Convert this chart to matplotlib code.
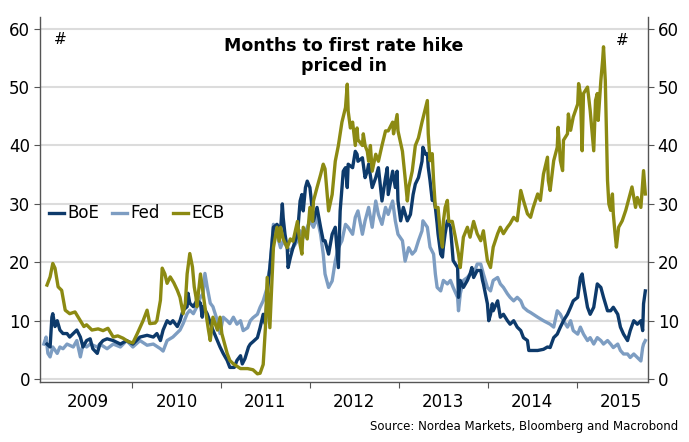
import numpy as np
import matplotlib.pyplot as plt

# months to first hike (time in decimal years)
ecb_t = [2009.045, 2009.08, 2009.11, 2009.135, 2009.17, 2009.21, 2009.25, 2009.30, 2009.36, 2009.42,
         2009.46, 2009.49, 2009.55, 2009.62, 2009.675, 2009.73, 2009.79, 2009.84, 2009.90, 2009.96,
         2010.01, 2010.06, 2010.125, 2010.17, 2010.20, 2010.26, 2010.28, 2010.32, 2010.34, 2010.37,
         2010.395, 2010.43, 2010.47, 2010.51, 2010.54, 2010.575, 2010.60, 2010.62, 2010.65, 2010.68,
         2010.70, 2010.72, 2010.73, 2010.77, 2010.79, 2010.82, 2010.86, 2010.88, 2010.91, 2010.96,
         2010.99, 2011.01, 2011.07, 2011.10, 2011.14, 2011.22, 2011.30, 2011.36, 2011.41, 2011.44,
         2011.475, 2011.50, 2011.52, 2011.55, 2011.58, 2011.59, 2011.63, 2011.655, 2011.67, 2011.70,
         2011.745, 2011.78, 2011.81, 2011.86, 2011.89, 2011.91, 2011.925, 2011.97, 2012.00, 2012.03,
         2012.04, 2012.08, 2012.12, 2012.15, 2012.17, 2012.21, 2012.25, 2012.285, 2012.32, 2012.36,
         2012.40, 2012.42, 2012.43, 2012.455, 2012.48, 2012.51, 2012.53, 2012.54, 2012.59, 2012.60,
         2012.62, 2012.645, 2012.66, 2012.68, 2012.70, 2012.74, 2012.77, 2012.81, 2012.85, 2012.88,
         2012.93, 2012.94, 2012.98, 2012.99, 2013.04, 2013.07, 2013.095, 2013.11, 2013.15, 2013.185,
         2013.22, 2013.26, 2013.30, 2013.32, 2013.33, 2013.35, 2013.375, 2013.39, 2013.41, 2013.44,
         2013.47, 2013.49, 2013.50, 2013.52, 2013.545, 2013.56, 2013.60, 2013.635, 2013.67, 2013.69,
         2013.725, 2013.77, 2013.80, 2013.84, 2013.88, 2013.92, 2013.95, 2013.995, 2014.03, 2014.06,
         2014.11, 2014.14, 2014.175, 2014.22, 2014.25, 2014.29, 2014.33, 2014.37, 2014.40, 2014.445,
         2014.48, 2014.51, 2014.56, 2014.59, 2014.625, 2014.67, 2014.68, 2014.70, 2014.74, 2014.78,
         2014.79, 2014.815, 2014.84, 2014.85, 2014.895, 2014.905, 2014.93, 2014.96, 2015.01, 2015.02,
         2015.04, 2015.06, 2015.075, 2015.12, 2015.15, 2015.19, 2015.21, 2015.23, 2015.24, 2015.27,
         2015.29, 2015.30, 2015.32, 2015.33, 2015.345, 2015.36, 2015.38, 2015.40, 2015.41, 2015.43,
         2015.445, 2015.47, 2015.51, 2015.55, 2015.58, 2015.62, 2015.66, 2015.68, 2015.72, 2015.75,
         2015.77]
ecb_v = [16.1, 17.5, 19.8, 19.0, 15.8, 15.2, 11.8, 11.2, 11.5, 10.0,
         9.0, 9.3, 8.4, 8.6, 8.3, 8.7, 7.2, 7.4, 7.0, 6.4,
         6.2, 7.8, 10.0, 11.8, 9.5, 9.6, 10.0, 13.5, 19.0, 18.0,
         16.4, 17.5, 16.5, 15.2, 14.0, 11.2, 13.0, 18.0, 21.5, 19.2,
         15.8, 14.0, 12.4, 18.0, 15.8, 12.4, 8.4, 6.6, 10.6, 8.4,
         10.6, 7.8, 4.4, 3.2, 2.6, 1.8, 1.8, 1.6, 0.9, 1.0,
         2.5, 8.8, 17.4, 8.8, 19.0, 22.5, 26.0, 23.6, 26.0, 24.0,
         22.5, 24.0, 23.6, 27.0, 23.0, 21.4, 26.0, 24.0, 29.4, 27.0,
         30.5, 32.8, 35.0, 36.8, 36.0, 28.8, 31.6, 37.3, 40.0, 44.0,
         46.5, 50.5, 45.9, 43.0, 44.0, 40.0, 43.0, 41.0, 40.0, 42.0,
         40.0, 39.0, 37.3, 40.0, 35.6, 38.5, 37.3, 40.0, 42.5, 42.5,
         44.0, 42.0, 45.3, 42.5, 39.0, 34.5, 30.5, 32.8, 35.6, 40.0,
         41.3, 44.0, 46.5, 47.7, 42.0, 37.4, 38.6, 34.0, 29.4, 29.4,
         24.3, 22.6, 27.0, 29.4, 30.6, 27.0, 27.0, 24.3, 21.4, 19.1,
         24.3, 26.0, 24.3, 27.0, 24.9, 23.7, 25.4, 20.3, 19.1, 22.6,
         24.9, 26.0, 24.9, 26.0, 26.6, 27.7, 27.1, 32.3, 30.6, 28.3,
         27.7, 29.4, 31.7, 30.6, 35.1, 38.0, 34.0, 32.3, 37.4, 39.7,
         43.1, 37.4, 35.7, 40.9, 42.0, 45.4, 42.6, 44.9, 47.1, 50.6,
         48.9, 39.1, 48.9, 50.0, 46.0, 39.1, 47.7, 48.9, 44.3, 51.1,
         54.6, 56.9, 51.1, 44.3, 34.0, 30.0, 28.9, 31.7, 28.3, 24.9,
         22.6, 26.0, 27.1, 28.9, 30.6, 32.9, 29.4, 31.1, 29.4, 35.7,
         31.7]

boe_t = [2009.045, 2009.08, 2009.10, 2009.11, 2009.135, 2009.16, 2009.19, 2009.225, 2009.27, 2009.30,
         2009.34, 2009.38, 2009.42, 2009.45, 2009.49, 2009.53, 2009.56, 2009.61, 2009.64, 2009.675,
         2009.72, 2009.79, 2009.87, 2009.94, 2010.01, 2010.09, 2010.17, 2010.24, 2010.28, 2010.32,
         2010.35, 2010.395, 2010.43, 2010.46, 2010.51, 2010.54, 2010.575, 2010.62, 2010.63, 2010.65,
         2010.69, 2010.73, 2010.77, 2010.79, 2010.80, 2010.845, 2010.91, 2010.96, 2010.99, 2011.025,
         2011.07, 2011.10, 2011.15, 2011.18, 2011.22, 2011.24, 2011.27, 2011.31, 2011.33, 2011.36,
         2011.41, 2011.44, 2011.475, 2011.50, 2011.52, 2011.55, 2011.59, 2011.63, 2011.67, 2011.69,
         2011.70, 2011.72, 2011.745, 2011.755, 2011.78, 2011.81, 2011.86, 2011.89, 2011.91, 2011.925,
         2011.95, 2011.97, 2012.00, 2012.04, 2012.08, 2012.12, 2012.15, 2012.17, 2012.21, 2012.25,
         2012.285, 2012.32, 2012.34, 2012.36, 2012.375, 2012.40, 2012.42, 2012.43, 2012.48, 2012.51,
         2012.53, 2012.54, 2012.59, 2012.62, 2012.645, 2012.66, 2012.70, 2012.74, 2012.77, 2012.81,
         2012.85, 2012.87, 2012.88, 2012.93, 2012.96, 2012.98, 2012.99, 2013.02, 2013.05, 2013.095,
         2013.13, 2013.16, 2013.185, 2013.22, 2013.26, 2013.27, 2013.30, 2013.32, 2013.33, 2013.35,
         2013.375, 2013.39, 2013.41, 2013.43, 2013.44, 2013.47, 2013.49, 2013.50, 2013.52, 2013.545,
         2013.58, 2013.61, 2013.66, 2013.67, 2013.69, 2013.725, 2013.77, 2013.80, 2013.82, 2013.84,
         2013.88, 2013.92, 2013.94, 2013.95, 2013.995, 2014.01, 2014.03, 2014.05, 2014.06, 2014.11,
         2014.14, 2014.175, 2014.22, 2014.25, 2014.29, 2014.33, 2014.37, 2014.40, 2014.445, 2014.46,
         2014.50, 2014.56, 2014.625, 2014.67, 2014.70, 2014.74, 2014.78, 2014.815, 2014.85, 2014.895,
         2014.93, 2014.96, 2015.01, 2015.04, 2015.06, 2015.075, 2015.12, 2015.15, 2015.19, 2015.23,
         2015.27, 2015.30, 2015.345, 2015.38, 2015.41, 2015.46, 2015.49, 2015.525, 2015.57, 2015.60,
         2015.64, 2015.68, 2015.72, 2015.74, 2015.75, 2015.77]
boe_v = [6.0, 5.5, 10.6, 11.2, 9.0, 10.0, 8.4, 7.8, 7.8, 7.2,
         7.8, 8.4, 7.2, 5.5, 6.6, 6.9, 5.2, 4.4, 6.0, 6.6,
         6.9, 6.6, 6.0, 6.6, 6.0, 7.2, 7.5, 7.2, 7.8, 6.6,
         8.4, 10.0, 9.5, 10.0, 9.0, 10.0, 11.8, 12.4, 14.7, 13.0,
         12.4, 13.5, 13.0, 10.6, 12.4, 11.2, 8.4, 6.6, 5.5, 4.4,
         3.2, 2.0, 2.0, 3.2, 4.0, 2.6, 3.5, 5.5, 6.0, 6.4,
         7.1, 8.8, 11.1, 9.4, 14.5, 19.1, 26.0, 26.5, 25.4, 30.0,
         27.6, 24.8, 22.5, 19.1, 20.8, 22.5, 24.8, 30.5, 31.6, 28.8,
         32.8, 33.9, 32.8, 27.1, 29.4, 26.0, 23.7, 23.7, 21.4, 24.8,
         26.0, 19.1, 28.8, 32.8, 35.6, 36.2, 32.8, 36.8, 36.2, 39.0,
         38.5, 37.3, 37.9, 34.5, 35.6, 36.8, 32.8, 34.5, 36.2, 30.5,
         34.5, 36.2, 31.6, 35.6, 32.8, 35.6, 30.5, 27.1, 29.4, 27.1,
         28.2, 31.6, 33.4, 34.5, 37.3, 39.7, 38.5, 38.6, 36.3, 34.0,
         30.6, 31.1, 29.4, 26.6, 24.9, 21.4, 20.9, 22.6, 24.9, 27.1,
         26.0, 20.3, 19.1, 14.0, 16.9, 15.7, 16.9, 18.0, 19.1, 17.4,
         18.6, 18.6, 16.9, 16.3, 12.9, 10.0, 11.1, 12.9, 11.7, 13.4,
         10.6, 11.1, 10.0, 9.4, 10.0, 8.9, 8.3, 7.1, 6.6, 4.9,
         4.9, 4.9, 5.1, 5.5, 5.4, 7.1, 7.7, 8.9, 10.0, 11.1,
         12.3, 13.4, 14.0, 17.4, 18.0, 16.3, 12.3, 11.1, 12.3, 16.3,
         15.7, 14.0, 11.7, 11.7, 12.3, 11.1, 8.9, 7.7, 6.6, 8.3,
         10.0, 9.4, 10.0, 8.3, 12.9, 15.1]

fed_t = [2009.01, 2009.035, 2009.055, 2009.08, 2009.11, 2009.16, 2009.19, 2009.225, 2009.27, 2009.34,
         2009.38, 2009.42, 2009.45, 2009.49, 2009.53, 2009.61, 2009.64, 2009.72, 2009.79, 2009.87,
         2009.94, 2010.01, 2010.09, 2010.17, 2010.24, 2010.32, 2010.35, 2010.395, 2010.46, 2010.54,
         2010.575, 2010.62, 2010.65, 2010.69, 2010.73, 2010.77, 2010.80, 2010.82, 2010.845, 2010.88,
         2010.91, 2010.96, 2010.99, 2011.025, 2011.07, 2011.10, 2011.14, 2011.18, 2011.22, 2011.25,
         2011.30, 2011.33, 2011.36, 2011.41, 2011.44, 2011.475, 2011.52, 2011.53, 2011.55, 2011.59,
         2011.63, 2011.67, 2011.70, 2011.745, 2011.78, 2011.81, 2011.86, 2011.89, 2011.925, 2011.97,
         2012.00, 2012.04, 2012.08, 2012.12, 2012.15, 2012.17, 2012.21, 2012.25, 2012.285, 2012.32,
         2012.36, 2012.40, 2012.43, 2012.48, 2012.51, 2012.54, 2012.59, 2012.62, 2012.66, 2012.70,
         2012.74, 2012.77, 2012.81, 2012.85, 2012.88, 2012.93, 2012.96, 2012.99, 2013.04, 2013.07,
         2013.11, 2013.15, 2013.185, 2013.22, 2013.26, 2013.27, 2013.32, 2013.35, 2013.39, 2013.41,
         2013.43, 2013.47, 2013.50, 2013.545, 2013.58, 2013.61, 2013.66, 2013.67, 2013.69, 2013.725,
         2013.77, 2013.80, 2013.84, 2013.88, 2013.92, 2013.95, 2013.995, 2014.03, 2014.06, 2014.11,
         2014.14, 2014.175, 2014.22, 2014.25, 2014.29, 2014.33, 2014.37, 2014.40, 2014.445, 2014.48,
         2014.51, 2014.56, 2014.625, 2014.70, 2014.74, 2014.78, 2014.815, 2014.85, 2014.895, 2014.93,
         2014.96, 2015.01, 2015.04, 2015.075, 2015.12, 2015.15, 2015.19, 2015.23, 2015.27, 2015.30,
         2015.345, 2015.38, 2015.41, 2015.46, 2015.49, 2015.525, 2015.57, 2015.60, 2015.64, 2015.68,
         2015.72, 2015.74, 2015.75, 2015.77]
fed_v = [6.0, 7.2, 4.4, 3.8, 5.5, 4.4, 5.5, 5.2, 6.0, 5.5,
         6.6, 3.8, 6.0, 5.5, 6.0, 5.5, 6.0, 5.2, 6.0, 5.5,
         6.6, 5.5, 6.6, 5.8, 6.0, 5.2, 4.8, 6.6, 7.2, 8.4,
         9.5, 11.2, 11.8, 11.2, 12.4, 14.0, 14.7, 18.1, 15.8, 13.0,
         12.4, 10.0, 7.8, 10.6, 10.0, 9.5, 10.6, 9.4, 10.0, 8.3,
         8.8, 10.0, 10.5, 11.1, 12.3, 13.4, 15.7, 17.4, 19.1, 26.5,
         24.8, 22.5, 23.7, 22.5, 22.0, 22.5, 23.7, 25.4, 24.2, 26.0,
         27.1, 26.0, 27.7, 24.8, 21.4, 18.0, 15.7, 16.8, 20.2, 22.5,
         23.7, 26.5, 26.0, 24.8, 27.7, 28.8, 24.8, 27.1, 29.4, 26.0,
         30.5, 28.2, 26.5, 29.4, 28.2, 30.5, 27.1, 24.8, 23.7, 20.2,
         22.5, 21.4, 22.0, 23.7, 25.4, 27.1, 26.0, 22.6, 21.4, 18.0,
         15.7, 15.1, 16.9, 16.3, 16.9, 15.7, 14.0, 11.7, 14.6, 16.9,
         17.4, 18.0, 18.0, 19.7, 19.7, 18.0, 15.7, 15.1, 16.9, 17.4,
         16.3, 15.7, 14.6, 14.0, 13.4, 14.0, 13.4, 12.3, 11.7, 11.4,
         11.1, 10.6, 10.0, 9.4, 8.9, 11.7, 11.1, 10.0, 8.9, 10.0,
         8.3, 7.7, 8.9, 7.7, 6.6, 7.1, 6.0, 7.1, 6.6, 6.0,
         6.6, 6.0, 5.4, 6.0, 4.9, 4.3, 4.3, 3.7, 4.3, 3.7,
         3.1, 5.4, 6.0, 6.6]

years = [2009, 2010, 2011, 2012, 2013, 2014, 2015]

c_boe = '#0d3a6b'
c_fed = '#7d9dc2'
c_ecb = '#8c8a12'

fig = plt.figure(figsize=(6.89, 4.42), dpi=100)
ax = fig.add_axes([0.058, 0.1357, 0.8825, 0.8258])

for v in range(0, 61, 10):
    ax.axhline(v, color='#dcdcdc', lw=1.5, zorder=0)

ax.plot(fed_t, fed_v, color=c_fed, lw=2.4, label='Fed', zorder=2)
ax.plot(boe_t, boe_v, color=c_boe, lw=2.4, label='BoE', zorder=3)
ax.plot(ecb_t, ecb_v, color=c_ecb, lw=2.4, label='ECB', zorder=4)

ax.set_xlim(2008.966, 2015.80)
ax.set_ylim(-0.5, 62)

ax.spines['top'].set_visible(False)
for s in ['left', 'right', 'bottom']:
    ax.spines[s].set_color('#555555')
    ax.spines[s].set_linewidth(1.0)

ax.set_yticks(range(0, 61, 10))
ax.tick_params(axis='y', left=True, right=True, labelleft=True, labelright=True,
               length=4, color='#555555', labelsize=12, pad=3)

ax.set_xticks([y for y in years[1:]])
ax.set_xticklabels([])
ax.set_xticks([y + 0.5 for y in years], minor=True)
ax.set_xticklabels([str(y) for y in years], minor=True)
ax.tick_params(axis='x', which='major', length=4, color='#555555')
ax.tick_params(axis='x', which='minor', length=0, labelsize=12, pad=8)

h, l = ax.get_legend_handles_labels()
order = [1, 0, 2]
ax.legend([h[i] for i in order], [l[i] for i in order], loc='center left',
          bbox_to_anchor=(-0.01, 0.462), ncol=3, frameon=False, fontsize=12,
          handlelength=0.9, handletextpad=0.2, columnspacing=0.8)

ax.text(0.5, 0.945, 'Months to first rate hike\npriced in', transform=ax.transAxes,
        ha='center', va='top', fontsize=12.5, fontweight='bold', linespacing=1.15)
ax.text(0.033, 0.96, '#', transform=ax.transAxes, ha='center', va='top', fontsize=11)
ax.text(0.958, 0.955, '#', transform=ax.transAxes, ha='center', va='top', fontsize=11)

fig.text(0.985, 0.02, 'Source: Nordea Markets, Bloomberg and Macrobond',
         ha='right', va='bottom', fontsize=8.5)

fig.savefig('out.png', dpi=100)
